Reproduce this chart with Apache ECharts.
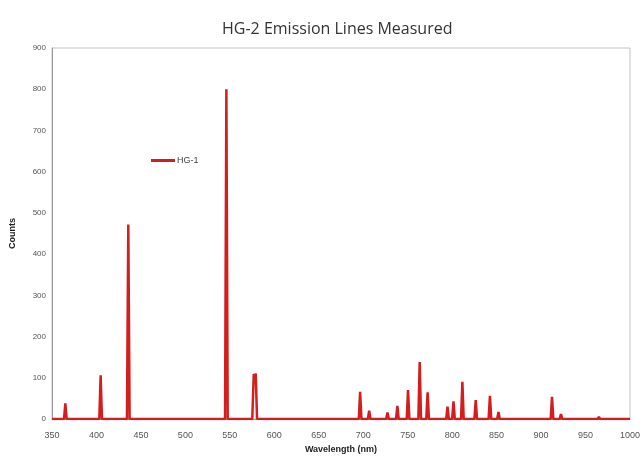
<!DOCTYPE html>
<html>
<head>
<meta charset="utf-8">
<script src="https://cdn.jsdelivr.net/npm/echarts@6/dist/echarts.min.js"></script>
<style>html,body{margin:0;padding:0;background:#fff}#c{width:643px;height:459px}</style>
</head>
<body>
<div id="c"></div>
<script>
var wavelengths = [350,363.5,365,366.5,403.2,404.7,406.2,434.3,435.8,437.3,544.6,546.1,547.6,575.2,576.9,578.2,579.1,580.6,
  695,696.5,698,705.2,706.7,708.2,725.8,727.3,728.8,736.9,738.4,739.9,748.9,750.4,751.9,762,763.5,765,
  770.9,772.4,773.9,793.3,794.8,796.3,800,801.5,803,810,811.5,813,825,826.5,828,841,842.5,844,
  850.6,852.1,853.6,910.8,912.3,913.8,920.9,922.4,923.9,963.5,965,966.5,1000];
var counts = [0,0,38,0,0,106,0,0,472,0,0,800,0,0,109,103,110,0,
  0,66,0,0,20,0,0,16,0,0,32,0,0,70,0,0,138,0,
  0,65,0,0,30,0,0,43,0,0,90,0,0,46,0,0,56,0,
  0,17,0,0,54,0,0,12,0,0,5,0,0];
var xTicks = {min:350, max:1000, interval:50};
var yTicks = {min:0, max:900, interval:100};
var seriesName = 'HG-1';

var data = wavelengths.map(function(w,i){return [w, counts[i]];});
var chart = echarts.init(document.getElementById('c'));
chart.setOption({
  animation:false,
  title:{text:'HG-2 Emission Lines Measured', left:217, top:16,
    textStyle:{fontFamily:'Open Sans', fontSize:16, fontWeight:'normal', color:'#333'}},
  legend:{data:[seriesName], left:146, top:151, icon:'rect', itemWidth:24, itemHeight:3, itemGap:2,
    textStyle:{fontFamily:'Liberation Sans', fontSize:9, color:'#444', padding:[0,0,0,-3]}},
  grid:{left:52, right:13, top:48, bottom:39, show:true, borderColor:'#c4c4c4', borderWidth:1},
  xAxis:{type:'value', min:xTicks.min, max:xTicks.max, interval:xTicks.interval,
    name:'Wavelength (nm)', nameLocation:'middle', nameGap:26,
    nameTextStyle:{fontFamily:'Liberation Sans', fontSize:9, fontWeight:'bold', color:'#222'},
    axisLine:{lineStyle:{color:'#999'}}, axisTick:{show:false}, splitLine:{show:false},
    axisLabel:{fontFamily:'Liberation Sans', fontSize:9, color:'#555', margin:12,
      formatter:function(v){return String(v);}}},
  yAxis:{type:'value', min:yTicks.min, max:yTicks.max, interval:yTicks.interval,
    name:'Counts', nameLocation:'middle', nameGap:35, nameRotate:90,
    nameTextStyle:{fontFamily:'Liberation Sans', fontSize:9, fontWeight:'bold', color:'#222'},
    axisLine:{show:true, lineStyle:{color:'#999'}}, axisTick:{show:false}, splitLine:{show:false},
    axisLabel:{fontFamily:'Liberation Sans', fontSize:8, color:'#555', margin:6}},
  series:[{name:seriesName, type:'line', data:data, symbol:'none', smooth:false,
    lineStyle:{color:'#d41e1e', width:2.5}, itemStyle:{color:'#d41e1e'}}]
});
</script>
</body>
</html>
